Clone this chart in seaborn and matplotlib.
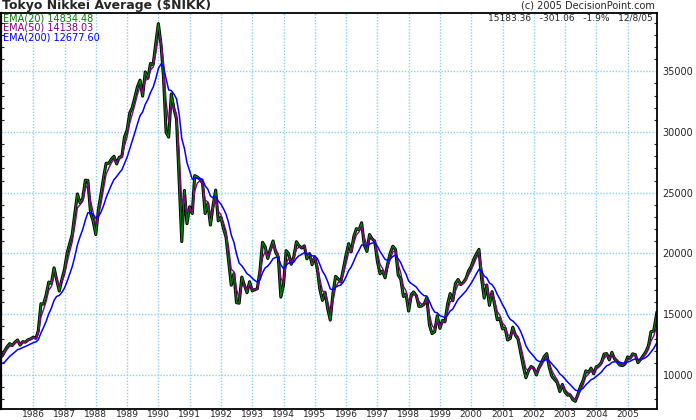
import pandas as pd
import seaborn as sns
import matplotlib.pyplot as plt
import matplotlib.ticker as mticker

# month-end values, Jan 1985 .. Dec 2005 (last one is 12/8/05)
first_day = 11560
close = [
    # 1985
    11990, 12320, 12580, 12430, 12690, 12880, 12460, 12740, 12700, 12900, 12970, 13110,
    # 1986
    13020, 13640, 15860, 15830, 16600, 17650, 17540, 18820, 17850, 16910, 17850, 18700,
    # 1987
    20050, 20770, 21570, 23270, 24900, 24180, 24490, 26030, 26010, 23330, 22690, 21560,
    # 1988
    23620, 24850, 26260, 27430, 27420, 27770, 28000, 27370, 27920, 28000, 29580, 30160,
    # 1989
    31580, 31990, 32840, 33710, 34270, 32950, 34950, 34430, 35640, 35550, 37270, 38920,
    # 1990
    37190, 34590, 29980, 29580, 33130, 31940, 31040, 25980, 20980, 25190, 22450, 23850,
    # 1991
    23290, 26410, 26290, 26110, 25790, 23290, 24120, 22340, 23920, 25220, 22690, 22980,
    # 1992
    22020, 21340, 19350, 17390, 18350, 15950, 15910, 18060, 17400, 16770, 17680, 16920,
    # 1993
    17020, 17100, 18590, 20920, 20550, 19590, 20380, 21030, 20110, 19700, 16410, 17420,
    # 1994
    20230, 20000, 19110, 19730, 20970, 20640, 20450, 20630, 19560, 19990, 19080, 19720,
    # 1995
    18650, 17050, 16140, 16810, 15440, 14520, 16680, 18120, 17910, 17650, 18740, 19870,
    # 1996
    20810, 20130, 21410, 22040, 21960, 22530, 20690, 20170, 21560, 21200, 21020, 19360,
    # 1997
    18330, 18560, 18000, 19150, 20070, 20600, 20330, 18230, 17890, 16460, 16640, 15260,
    # 1998
    16630, 16830, 16530, 15640, 15670, 15830, 16380, 14110, 13410, 13560, 14880, 13840,
    # 1999
    14500, 14370, 15840, 16700, 16110, 17530, 17860, 17440, 17610, 17940, 18560, 18930,
    # 2000
    19540, 19960, 20340, 17970, 16330, 17410, 15730, 16860, 15750, 14540, 14650, 13790,
    # 2001
    13840, 12880, 13000, 13930, 13260, 12970, 11860, 10710, 9770, 10370, 10700, 10540,
    # 2002
    10000, 10590, 11020, 11490, 11760, 10620, 9880, 9620, 9380, 8640, 9220, 8580,
    # 2003
    8340, 8360, 7970, 7830, 8420, 9080, 9560, 10340, 10220, 10560, 10100, 10680,
    # 2004
    10780, 11040, 11720, 11760, 11240, 11860, 11330, 11080, 10820, 10770, 10900, 11490,
    # 2005
    11390, 11740, 11670, 11010, 11280, 11580, 11900, 12410, 13570, 13610, 14870, 15180,
]

ema50 = [
    11500,
    11800, 12100, 12370, 12405, 12570, 12750, 12585, 12675, 12690, 12810, 12900, 13020,
    13020, 13375, 14790, 15380, 16075, 16975, 17295, 18165, 17985, 17370, 17645, 18245,
    19275, 20125, 20950, 22270, 23770, 24005, 24280, 25280, 25695, 24345, 23400, 22350,
    23075, 24085, 25325, 26525, 27035, 27455, 27765, 27540, 27755, 27895, 28855, 29600,
    30730, 31450, 32240, 33080, 33760, 33300, 34240, 34350, 35085, 35350, 36445, 37855,
    37475, 35830, 32495, 30835, 32140, 32025, 31465, 28340, 24145, 24740, 23435, 23670,
    23455, 25140, 25795, 25975, 25870, 24400, 24240, 23155, 23590, 24520, 23475, 23195,
    22525, 21850, 20425, 18695, 18500, 17045, 16400, 17345, 17375, 17030, 17400, 17125,
    17065, 17085, 17945, 19640, 20160, 19835, 20145, 20650, 20340, 19975, 17945, 17645,
    19120, 19620, 19330, 19560, 20365, 20520, 20480, 20565, 19990, 19990, 19470, 19615,
    19065, 17915, 16905, 16850, 16045, 15175, 16035, 17225, 17615, 17635, 18265, 19180,
    20110, 20120, 20855, 21530, 21775, 22205, 21340, 20675, 21180, 21190, 21095, 20105,
    19095, 18790, 18340, 18800, 19525, 20140, 20250, 19100, 18410, 17300, 16925, 15975,
    16350, 16625, 16570, 16040, 15830, 15830, 16145, 14985, 14085, 13785, 14410, 14085,
    14320, 14350, 15200, 16055, 16085, 16910, 17450, 17445, 17540, 17770, 18220, 18625,
    19145, 19610, 20025, 18855, 17415, 17410, 16450, 16685, 16150, 15230, 14900, 14265,
    14025, 13370, 13160, 13600, 13405, 13160, 12420, 11445, 10490, 10420, 10580, 10560,
    10240, 10440, 10770, 11180, 11510, 11005, 10365, 9940, 9620, 9060, 9150, 8825,
    8550, 8440, 8170, 7975, 8230, 8715, 9195, 9850, 10060, 10345, 10205, 10475,
    10650, 10870, 11355, 11585, 11390, 11660, 11470, 11250, 11005, 10870, 10885, 11230,
    11320, 11560, 11620, 11270, 11275, 11450, 11705, 12105, 12800, 13200, 13900, 14138,
]

ema200 = [
    10950,
    11050, 11290, 11535, 11705, 11890, 12080, 12150, 12260, 12345, 12450, 12550, 12655,
    12725, 12900, 13460, 13910, 14420, 15035, 15510, 16140, 16465, 16550, 16795, 17160,
    17710, 18290, 18915, 19740, 20720, 21375, 21965, 22740, 23360, 23355, 23230, 22910,
    23045, 23390, 23935, 24600, 25135, 25635, 26085, 26330, 26630, 26890, 27400, 27925,
    28620, 29260, 29940, 30655, 31340, 31645, 32275, 32685, 33245, 33685, 34365, 35230,
    35600, 35410, 34380, 33470, 33405, 33125, 32730, 31450, 29460, 28650, 27470, 26780,
    26115, 26170, 26195, 26180, 26105, 25570, 25295, 24735, 24580, 24700, 24320, 24065,
    23675, 23230, 22495, 21525, 20920, 19975, 19205, 18990, 18690, 18325, 18200, 17955,
    17775, 17645, 17825, 18415, 18820, 18965, 19235, 19575, 19675, 19680, 19060, 18750,
    19030, 19215, 19195, 19295, 19615, 19810, 19930, 20065, 19970, 19975, 19805, 19790,
    19575, 19095, 18535, 18205, 17680, 17080, 17005, 17215, 17345, 17405, 17660, 18080,
    18600, 18890, 19370, 19875, 20270, 20700, 20700, 20600, 20780, 20860, 20890, 20600,
    20170, 19865, 19510, 19440, 19560, 19760, 19870, 19560, 19240, 18710, 18315, 17735,
    17525, 17395, 17230, 16930, 16690, 16525, 16500, 16045, 15545, 15170, 15115, 14875,
    14805, 14720, 14935, 15270, 15430, 15830, 16215, 16450, 16670, 16910, 17225, 17550,
    17930, 18315, 18700, 18560, 18135, 18000, 17570, 17435, 17115, 16625, 16250, 15785,
    15415, 14935, 14570, 14450, 14225, 13985, 13580, 13035, 12415, 12025, 11775, 11540,
    11245, 11120, 11100, 11175, 11285, 11160, 10915, 10670, 10425, 10085, 9920, 9665,
    9415, 9215, 8980, 8760, 8695, 8770, 8920, 9190, 9385, 9610, 9705, 9890,
    10060, 10245, 10525, 10760, 10850, 11040, 11095, 11090, 11040, 10990, 10975, 11075,
    11135, 11250, 11330, 11270, 11270, 11330, 11440, 11625, 11900, 12180, 12560, 12678,
]

years = list(range(1986, 2006))
y_ticks = [10000, 15000, 20000, 25000, 30000, 35000]

legend_rows = [("EMA(20) 14834.48", "#0b7a0b"),
               ("EMA(50) 14138.03", "#800080"),
               ("EMA(200) 12677.60", "#0000ff")]

# dates: first trading day, month ends, then the last quote
dates = (pd.DatetimeIndex(["1985-01-04"])
         .append(pd.date_range("1985-01-31", "2005-11-30", freq="ME"))
         .append(pd.DatetimeIndex(["2005-12-08"])))
df = pd.DataFrame({"date": dates,
                   "close": [first_day] + close,
                   "ema50": ema50,
                   "ema200": ema200})

sns.set_style("white")
plt.rcParams["font.family"] = ["DejaVu Sans"]

fig = plt.figure(figsize=(6.96, 4.2), dpi=100)
ax = fig.add_axes([0.0015, 0.0262, 0.9425, 0.943])

sns.lineplot(data=df, x="date", y="close", color="black", linewidth=2.2, ax=ax)
sns.lineplot(data=df, x="date", y="close", color="#0b7a0b", linewidth=0.9, ax=ax)
sns.lineplot(data=df, x="date", y="ema50", color="#800080", linewidth=1.0, ax=ax)
sns.lineplot(data=df, x="date", y="ema200", color="#0000ff", linewidth=1.1, ax=ax)

ax.set_xlim(pd.Timestamp("1984-12-20"), pd.Timestamp("2005-12-09"))
ax.set_ylim(7200, 39800)
ax.set_xlabel("")
ax.set_ylabel("")

# year gridlines, labels centred on them
ax.set_xticks(pd.to_datetime([f"{y}-01-01" for y in years]))
ax.set_xticklabels([str(y) for y in years])
ax.set_yticks(y_ticks)
ax.set_yticklabels([str(v) for v in y_ticks])
ax.yaxis.set_minor_locator(mticker.MultipleLocator(1000))
ax.grid(True, which="major", color="#8cd2ef", linestyle=(0, (1, 1.2)), linewidth=1)
ax.set_axisbelow(True)

ax.yaxis.tick_right()
ax.tick_params(axis="x", length=0, pad=0.5, labelsize=6.5)
ax.tick_params(axis="y", which="major", length=0, pad=4, labelsize=7)
ax.tick_params(axis="y", which="minor", direction="in", length=2.5,
               left=True, right=True, width=0.8)

ax.spines["left"].set_linewidth(1.6)
for side in ["top", "right", "bottom"]:
    ax.spines[side].set_linestyle((0, (2, 1)))
    ax.spines[side].set_linewidth(1.3)
for sp in ax.spines.values():
    sp.set_color("black")

fig.text(2 / 696, 1 - 5.5 / 420, "Tokyo Nikkei Average ($NIKK)",
         fontsize=9, fontweight="bold", ha="left", va="center")
fig.text(655 / 696, 1 - 6 / 420, "(c) 2005 DecisionPoint.com",
         fontsize=7, ha="right", va="center")
fig.text(653 / 696, 1 - 18 / 420, "15183.36   -301.06   -1.9%   12/8/05",
         fontsize=6.5, ha="right", va="center")
for i, (txt, col) in enumerate(legend_rows):
    fig.text(3 / 696, 1 - (18.5 + 9.5 * i) / 420, txt, color=col,
             fontsize=7, ha="left", va="center")

fig.savefig("out.png", dpi=100)
